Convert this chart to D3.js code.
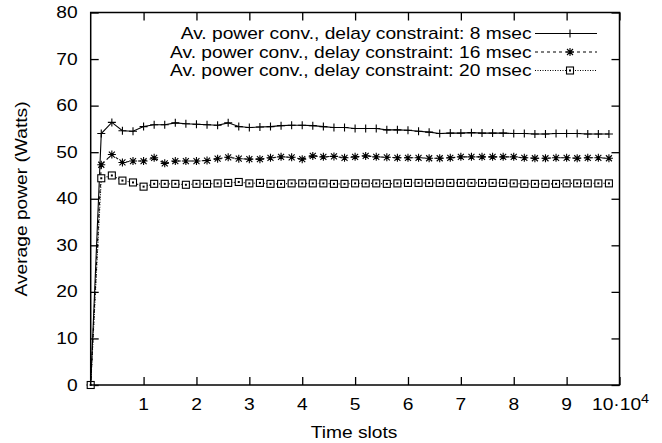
<!DOCTYPE html>
<html><head><meta charset="utf-8">
<script src="https://cdn.jsdelivr.net/npm/d3@7"></script>
<style>body{margin:0;background:#fff}svg{display:block}text{font-family:"Liberation Sans",Arial,sans-serif;font-size:16px;fill:#000}</style>
</head><body><svg id="c" width="662" height="443"></svg>
<script>
const timeSlots = [0,2000,4000,6000,8000,10000,12000,14000,16000,18000,20000,22000,24000,26000,28000,30000,32000,34000,36000,38000,40000,42000,44000,46000,48000,50000,52000,54000,56000,58000,60000,62000,64000,66000,68000,70000,72000,74000,76000,78000,80000,82000,84000,86000,88000,90000,92000,94000,96000,98000];
const delay8 = [0,54.0,56.4,54.6,54.5,55.5,55.9,55.9,56.3,56.1,56.0,55.9,55.8,56.3,55.5,55.3,55.4,55.5,55.7,55.8,55.8,55.7,55.5,55.3,55.3,55.1,55.1,55.1,54.8,54.8,54.7,54.5,54.3,54.0,54.1,54.1,54.2,54.1,54.1,54.1,54.0,54.0,53.9,53.9,54.0,54.0,54.0,53.9,53.9,53.9];
const delay16 = [0,47.3,49.5,47.8,48.1,48.1,48.8,47.6,48.1,48.1,48.1,48.2,48.6,48.9,48.6,48.5,48.5,48.8,49.0,48.9,48.5,49.2,49.0,49.1,48.8,49.0,49.2,49.0,48.9,48.8,48.8,48.8,48.7,48.7,48.8,49.0,49.0,49.0,49.0,49.0,49.0,48.8,48.7,48.7,48.8,48.8,48.7,48.8,48.8,48.7];
const delay20 = [0,44.4,45.0,43.9,43.5,42.6,43.2,43.2,43.2,43.0,43.2,43.2,43.3,43.4,43.6,43.3,43.4,43.2,43.2,43.3,43.3,43.3,43.3,43.2,43.2,43.3,43.3,43.3,43.2,43.3,43.4,43.4,43.4,43.4,43.4,43.4,43.4,43.4,43.4,43.4,43.3,43.2,43.2,43.2,43.2,43.3,43.3,43.3,43.3,43.3];
const seriesNames = ["Av. power conv., delay constraint: 8 msec","Av. power conv., delay constraint: 16 msec","Av. power conv., delay constraint: 20 msec"];
const xTicks = [1,2,3,4,5,6,7,8,9,10];
const yTicks = [0,10,20,30,40,50,60,70,80];

const svg = d3.select("#c");
const L=90.7,R=619.5,T=12.5,B=385;
const SX=1.2;
const x = d3.scaleLinear().domain([0,100000]).range([L,R]);
const y = d3.scaleLinear().domain([0,80]).range([B,T]);

function txt(px,py,str,anchor,rot){
  const g = svg.append("g").attr("transform",`translate(${px},${py})${rot?` rotate(${rot})`:""} scale(${SX},1)`);
  return g.append("text").attr("text-anchor",anchor||"start").text(str);
}

const series = [
 {name:seriesNames[0], vals:delay8, dash:null, marker:"plus"},
 {name:seriesNames[1], vals:delay16, dash:"3,3", marker:"star"},
 {name:seriesNames[2], vals:delay20, dash:"1,1.5", marker:"box"}
];

// axes with inward ticks
const tk=8;
const gx = svg.append("g").attr("transform",`translate(0,${B})`)
 .call(d3.axisBottom(x).tickValues(xTicks.map(v=>v*10000)).tickSize(-tk).tickFormat(""));
const gxt = svg.append("g").attr("transform",`translate(0,${T})`)
 .call(d3.axisTop(x).tickValues(xTicks.map(v=>v*10000)).tickSize(-tk).tickFormat(""));
const gy = svg.append("g").attr("transform",`translate(${L},0)`)
 .call(d3.axisLeft(y).tickValues(yTicks).tickSize(-tk).tickFormat(""));
const gyr = svg.append("g").attr("transform",`translate(${R},0)`)
 .call(d3.axisRight(y).tickValues(yTicks).tickSize(-tk).tickFormat(""));
[gx,gxt,gy,gyr].forEach(g=>{g.select(".domain").remove();g.selectAll("line").attr("stroke","#000").attr("stroke-width",1.3);});

// tick labels
yTicks.forEach(d=>txt(L-13,y(d),d,"end").attr("dy","0.35em"));
xTicks.slice(0,9).forEach(d=>txt(x(d*10000),B+25,d,"middle"));
const lt = txt(592,B+25,"","start");
lt.append("tspan").text("10·10");
lt.append("tspan").attr("dy",-7).style("font-size","12px").text("4");

txt(354,438,"Time slots","middle");
txt(27,199,"Average power (Watts)","middle",-90);

// lines
const line = d3.line().x((d,i)=>x(timeSlots[i])).y(d=>y(d));
function marker(g,type,cx,cy){
  if(type==="plus"){
    g.append("path").attr("d",`M${cx-4},${cy}H${cx+4}M${cx},${cy-4}V${cy+4}`).attr("stroke","#000").attr("stroke-width",1.1).attr("fill","none");
  } else if(type==="star"){
    g.append("path").attr("d",`M${cx-4},${cy}H${cx+4}M${cx},${cy-4}V${cy+4}M${cx-3},${cy-3}L${cx+3},${cy+3}M${cx-3},${cy+3}L${cx+3},${cy-3}`).attr("stroke","#000").attr("stroke-width",1.1).attr("fill","none");
  } else {
    g.append("rect").attr("x",cx-3.5).attr("y",cy-3.5).attr("width",7).attr("height",7).attr("fill","#fff").attr("stroke","#000").attr("stroke-width",1.1);
    g.append("rect").attr("x",cx-1).attr("y",cy-1).attr("width",2).attr("height",2).attr("fill","#000");
  }
}
series.forEach(s=>{
  svg.append("path").datum(s.vals).attr("d",line).attr("fill","none").attr("stroke","#000").attr("stroke-width",1.1)
    .attr("stroke-dasharray",s.dash);
  const g = svg.append("g");
  s.vals.forEach((v,i)=>marker(g,s.marker,x(timeSlots[i]),y(v)));
});

// legend
const legY=[33.5,52,70.5];
series.forEach((s,i)=>{
  txt(531.5,legY[i],s.name,"end").attr("dy","0.35em");
  svg.append("line").attr("x1",535).attr("x2",597).attr("y1",legY[i]).attr("y2",legY[i]).attr("stroke","#000").attr("stroke-width",1.1).attr("stroke-dasharray",s.dash);
  marker(svg.append("g"),s.marker,570,legY[i]);
});

// frame
svg.append("rect").attr("x",L).attr("y",T).attr("width",R-L).attr("height",B-T).attr("fill","none").attr("stroke","#000").attr("stroke-width",1.5);
</script></body></html>
